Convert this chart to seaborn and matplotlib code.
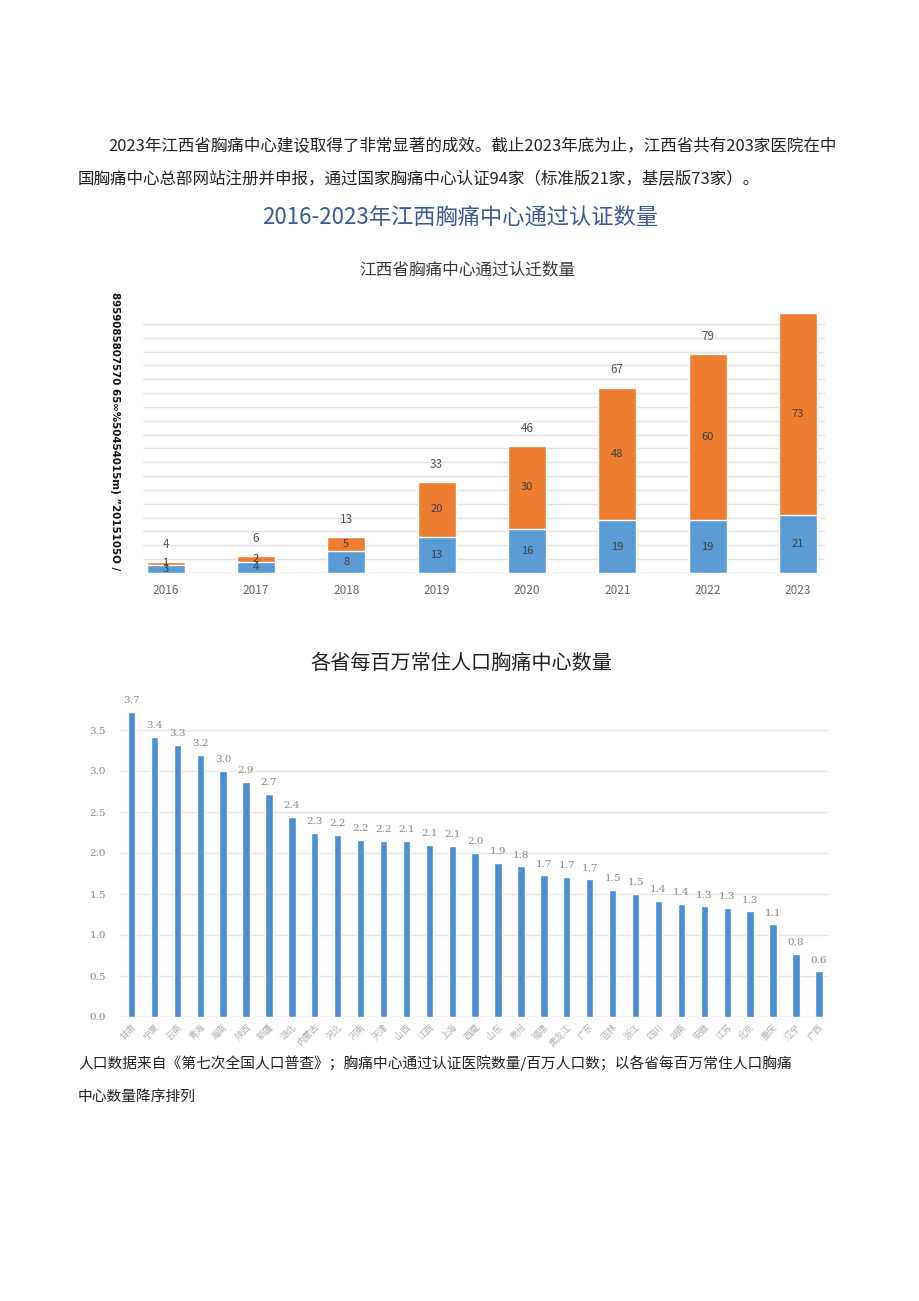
import numpy as np
import pandas as pd
import matplotlib
matplotlib.use("Agg")
import matplotlib.pyplot as plt
import seaborn as sns

# chart 1 data: certified chest pain centres in Jiangxi
years = ["2016", "2017", "2018", "2019", "2020", "2021", "2022", "2023"]
standard = [3, 4, 8, 13, 16, 19, 19, 21]
basic = [1, 2, 5, 20, 30, 48, 60, 73]

# chart 2 data: centres per million residents by province
provinces = ["甘肃", "宁夏", "云南", "青海", "海南", "陕西", "新疆", "湖北", "内蒙古", "河北",
             "河南", "天津", "山西", "江西", "上海", "西藏", "山东", "贵州", "福建", "黑龙江",
             "广东", "吉林", "浙江", "四川", "湖南", "安徽", "江苏", "北京", "重庆", "辽宁", "广西"]
per_million = [3.72, 3.42, 3.32, 3.20, 3.00, 2.87, 2.72, 2.44, 2.25, 2.22,
               2.16, 2.15, 2.15, 2.10, 2.09, 2.00, 1.88, 1.84, 1.73, 1.71,
               1.68, 1.55, 1.50, 1.42, 1.38, 1.35, 1.33, 1.29, 1.13, 0.77, 0.56]
per_million_labels = ["3.7", "3.4", "3.3", "3.2", "3.0", "2.9", "2.7", "2.4", "2.3", "2.2",
                      "2.2", "2.2", "2.1", "2.1", "2.1", "2.0", "1.9", "1.8", "1.7", "1.7",
                      "1.7", "1.5", "1.5", "1.4", "1.4", "1.3", "1.3", "1.3", "1.1", "0.8", "0.6"]

sns.set_style("white")
plt.rcParams['font.family'] = ['Noto Sans CJK SC', 'DejaVu Sans']

W, H = 920, 1301
fig = plt.figure(figsize=(W / 100, H / 100), dpi=100)
fig.patch.set_facecolor("white")

def px(x, y):  # pixel -> figure fraction
    return x / W, 1 - y / H

# paragraph text
fig.text(*px(108, 146), "2023年江西省胸痛中心建设取得了非常显著的成效。截止2023年底为止，江西省共有203家医院在中",
         fontsize=11.9, color="#222222", va="center", ha="left")
fig.text(*px(78, 180), "国胸痛中心总部网站注册并申报，通过国家胸痛中心认证94家（标准版21家，基层版73家）。",
         fontsize=11.9, color="#222222", va="center", ha="left")

fig.text(*px(460, 218), "2016-2023年江西胸痛中心通过认证数量", fontsize=16, color="#3a5a93",
         va="center", ha="center")
fig.text(*px(467, 270), "江西省胸痛中心通过认迁数量", fontsize=12, color="#3a3a3a",
         va="center", ha="center")

# chart 1: stacked bars (total in orange, standard drawn over it in blue)
totals = [a + b for a, b in zip(standard, basic)]
df1 = pd.DataFrame({"year": years, "standard": standard, "basic": basic, "total": totals})

ax1 = fig.add_axes([143 / W, 1 - 573 / H, (825 - 143) / W, 263 / H])
sns.barplot(data=df1, x="year", y="total", color="#ed7d31", width=0.42, saturation=1, ax=ax1, zorder=3)
sns.barplot(data=df1, x="year", y="standard", color="#5b9bd5", width=0.42, saturation=1, ax=ax1, zorder=3)
ax1.set_xlim(-0.25, 7.3)
ax1.set_ylim(0, 95)
ax1.set_yticks(np.arange(0, 95, 5))
ax1.yaxis.grid(True, color="#e3e3e3", linewidth=1.0, zorder=0)
ax1.set_yticklabels([])
ax1.tick_params(axis="y", length=0)
ax1.tick_params(axis="x", length=0, labelsize=8.5, labelcolor="#666666", pad=8)
ax1.set_xlabel("")
ax1.set_ylabel("")
for s in ax1.spines.values():
    s.set_visible(False)
ax1.axhline(0, color="#d9d9d9", linewidth=1, zorder=2)

for i in range(len(years)):
    ax1.text(i, standard[i] / 2, str(standard[i]), ha="center", va="center", fontsize=8,
             color="#404040", zorder=5)
    ax1.text(i, standard[i] + basic[i] / 2, str(basic[i]), ha="center", va="center", fontsize=8,
             color="#404040", zorder=5)
    if i < len(years) - 1:
        ax1.text(i, totals[i] + 4, str(totals[i]), ha="center", va="bottom", fontsize=8.5,
                 color="#555555", zorder=5)

fig.text(*px(115, 431), "8959085807570 65∞%50454015m) \u201d2015105O /", rotation=-90,
         fontsize=7.4, fontweight="bold", color="#111111", va="center", ha="center",
         family="DejaVu Sans")

# chart 2
fig.text(*px(461, 663), "各省每百万常住人口胸痛中心数量", fontsize=14.5, color="#222222",
         va="center", ha="center", fontweight="medium")

df2 = pd.DataFrame({"province": provinces, "value": per_million})
ax2 = fig.add_axes([120 / W, 1 - 1017 / H, (828 - 120) / W, 328 / H])
sns.barplot(data=df2, x="province", y="value", color="#4a8fd4", width=0.32, saturation=1,
            ax=ax2, zorder=3)
ax2.set_xlim(-0.5, 30.4)
ax2.set_ylim(0, 4.0)
ax2.set_yticks(np.arange(0, 4.0, 0.5))
ax2.set_yticklabels([f"{v:.1f}" for v in np.arange(0, 4.0, 0.5)], family="DejaVu Serif",
                    fontsize=7.5, color="#888888")
ax2.yaxis.grid(True, color="#e6e6e6", linewidth=1.0, zorder=0)
ax2.tick_params(axis="y", length=0, pad=10)
ax2.tick_params(axis="x", length=0, pad=4)
ax2.set_xticks(range(len(provinces)))
ax2.set_xticklabels(provinces, rotation=45, ha="right", rotation_mode="anchor",
                    fontsize=6.5, color="#b0b0b0")
ax2.set_xlabel("")
ax2.set_ylabel("")
for s in ax2.spines.values():
    s.set_visible(False)
ax2.axhline(0, color="#e0e0e0", linewidth=1, zorder=2)
for i, (v, lab) in enumerate(zip(per_million, per_million_labels)):
    ax2.text(i, v + 0.08, lab, ha="center", va="bottom", fontsize=7.5, color="#888888",
             family="DejaVu Serif", zorder=5)

fig.text(*px(78, 1063), "人口数据来自《第七次全国人口普查》；胸痛中心通过认证医院数量/百万人口数；以各省每百万常住人口胸痛",
         fontsize=10.6, color="#222222", va="center", ha="left")
fig.text(*px(78, 1097), "中心数量降序排列", fontsize=10.6, color="#222222", va="center", ha="left")

fig.savefig("out.png", dpi=100, facecolor="white")
